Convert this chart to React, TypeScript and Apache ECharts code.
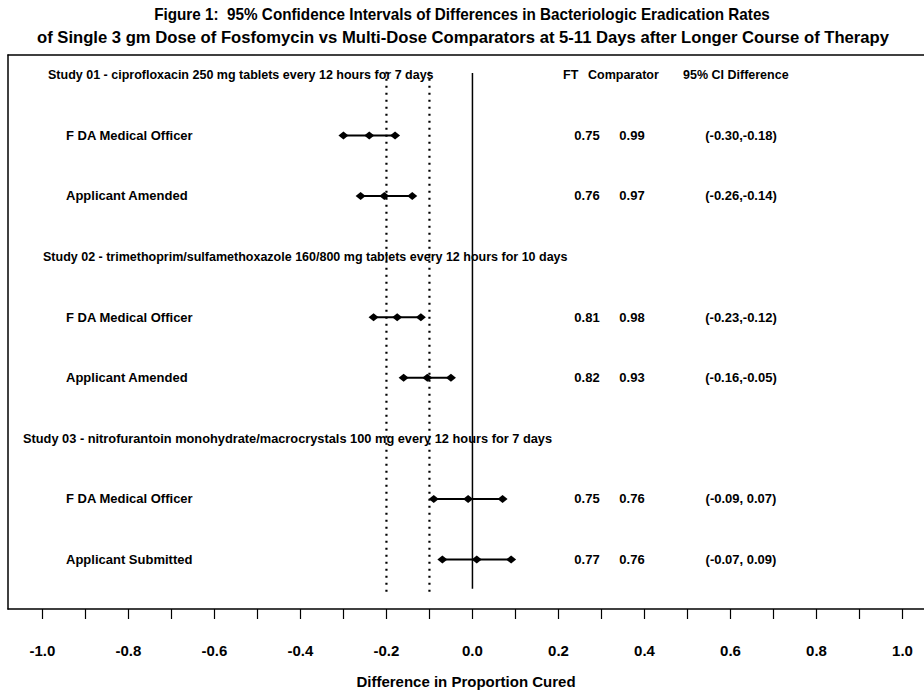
import React, { useEffect, useRef } from "react";
import * as echarts from "echarts";

// ---------- data ----------
const titleLines = [
  "Figure 1:  95% Confidence Intervals of Differences in Bacteriologic Eradication Rates",
  "of Single 3 gm Dose of Fosfomycin vs Multi-Dose Comparators at 5-11 Days after Longer Course of Therapy",
];
const studyHeaders = [
  "Study 01 - ciprofloxacin 250 mg tablets every 12 hours for 7 days",
  "Study 02 - trimethoprim/sulfamethoxazole 160/800 mg tablets every 12 hours for 10 days",
  "Study 03 - nitrofurantoin monohydrate/macrocrystals 100 mg every 12 hours for 7 days",
];
const studyRows = [0, 3, 6];
const comparisonLabels = [
  "F DA Medical Officer",
  "Applicant Amended",
  "F DA Medical Officer",
  "Applicant Amended",
  "F DA Medical Officer",
  "Applicant Submitted",
];
const comparisonRows = [1, 2, 4, 5, 7, 8];
const lowerCI = [-0.3, -0.26, -0.23, -0.16, -0.09, -0.07];
const pointEst = [-0.24, -0.205, -0.175, -0.105, -0.01, 0.01];
const upperCI = [-0.18, -0.14, -0.12, -0.05, 0.07, 0.09];
const ftRates = ["0.75", "0.76", "0.81", "0.82", "0.75", "0.77"];
const comparatorRates = ["0.99", "0.97", "0.98", "0.93", "0.76", "0.76"];
const ciLabels = [
  "(-0.30,-0.18)",
  "(-0.26,-0.14)",
  "(-0.23,-0.12)",
  "(-0.16,-0.05)",
  "(-0.09, 0.07)",
  "(-0.07, 0.09)",
];
const columnHeaders = ["FT", "Comparator", "95% CI Difference"];
const solidReference = [0];
const dottedReferences = [-0.2, -0.1];
const xTickValues = [
  -1.0, -0.9, -0.8, -0.7, -0.6, -0.5, -0.4, -0.3, -0.2, -0.1, 0.0, 0.1, 0.2, 0.3, 0.4, 0.5, 0.6, 0.7,
  0.8, 0.9, 1.0,
];
const xLabelValues = [-1.0, -0.8, -0.6, -0.4, -0.2, 0.0, 0.2, 0.4, 0.6, 0.8, 1.0];
const xAxisTitle = "Difference in Proportion Cured";

// ---------- layout constants ----------
const FONT = "'Liberation Sans', Arial, sans-serif";
const X_MIN = -1.08;
const X_MAX = 1.05;
const Y_MIN = -0.3265;
const Y_MAX = 8.816;
const REF_TOP = -0.03;
const REF_BOTTOM = 8.48;

export default function App() {
  const ref = useRef<HTMLDivElement>(null);

  useEffect(() => {
    if (!ref.current) return;
    const chart = echarts.init(ref.current, undefined, { renderer: "svg" });

    const forestData = comparisonRows.map((row, i) => [lowerCI[i], pointEst[i], upperCI[i], row, i]);
    const textData = comparisonRows.map((row, i) => [0, row, i]);
    const headerData = studyRows.map((row, i) => [0, row, i]);

    const headerX = [48, 43, 23];
    const headerFontSize = [12.5, 12.5, 12.8];
    const columnHeaderX = [563, 588, 683];

    const option: any = {
      animation: false,
      backgroundColor: "#fff",
      textStyle: { fontFamily: FONT },
      graphic: [
        {
          type: "text",
          x: 462,
          y: 14,
          scaleX: 0.955,
          style: {
            text: titleLines[0],
            font: `bold 16px ${FONT}`,
            fill: "#000",
            align: "center",
            verticalAlign: "middle",
          },
        },
        {
          type: "text",
          x: 463,
          y: 37,
          scaleX: 1.04,
          style: {
            text: titleLines[1],
            font: `bold 16px ${FONT}`,
            fill: "#000",
            align: "center",
            verticalAlign: "middle",
          },
        },
      ],
      grid: { left: 8, right: 0, top: 55, bottom: 79, containLabel: false },
      xAxis: [
        {
          type: "value",
          min: X_MIN,
          max: X_MAX,
          position: "bottom",
          axisLine: { show: true, onZero: false, lineStyle: { color: "#000", width: 1.5 } },
          axisTick: {
            show: true,
            length: 10,
            inside: false,
            customValues: xTickValues,
            lineStyle: { color: "#000", width: 1.2 },
          },
          axisLabel: {
            show: true,
            customValues: xLabelValues,
            formatter: (v: number) => v.toFixed(1),
            fontFamily: FONT,
            fontSize: 15,
            fontWeight: "bold",
            color: "#000",
            margin: 34,
          },
          splitLine: { show: false },
          name: xAxisTitle,
          nameLocation: "middle",
          nameGap: 65,
          nameTextStyle: { fontFamily: FONT, fontSize: 15, fontWeight: "bold", color: "#000" },
        },
        {
          type: "value",
          min: X_MIN,
          max: X_MAX,
          position: "top",
          axisLine: { show: true, onZero: false, lineStyle: { color: "#000", width: 1.5 } },
          axisTick: { show: false },
          axisLabel: { show: false },
          splitLine: { show: false },
        },
      ],
      yAxis: {
        type: "value",
        inverse: true,
        min: Y_MIN,
        max: Y_MAX,
        axisLine: { show: true, onZero: false, lineStyle: { color: "#000", width: 1.5 } },
        axisTick: { show: false },
        axisLabel: { show: false },
        splitLine: { show: false },
      },
      series: [
        {
          type: "custom",
          name: "reference",
          clip: false,
          data: [
            ...solidReference.map((x) => [x, 0]),
            ...dottedReferences.map((x) => [x, 1]),
          ],
          encode: { x: 0, y: 1 },
          renderItem: (params: any, api: any) => {
            const x = api.value(0);
            const dotted = api.value(1) === 1;
            const top = api.coord([x, dotted ? REF_TOP - 0.02 : REF_TOP]);
            const bottom = api.coord([x, dotted ? REF_BOTTOM + 0.05 : REF_BOTTOM]);
            return {
              type: "line",
              shape: { x1: top[0], y1: top[1], x2: bottom[0], y2: bottom[1] },
              style: dotted
                ? { stroke: "#000", lineWidth: 2.2, lineDash: [2, 5] }
                : { stroke: "#000", lineWidth: 1.5 },
            };
          },
        },
        {
          type: "custom",
          name: "ci",
          clip: false,
          data: forestData,
          encode: { x: [0, 1, 2], y: 3 },
          renderItem: (params: any, api: any) => {
            const row = api.value(3);
            const lo = api.coord([api.value(0), row]);
            const est = api.coord([api.value(1), row]);
            const hi = api.coord([api.value(2), row]);
            const diamond = (p: number[]) => ({
              type: "polygon",
              shape: {
                points: [
                  [p[0] - 5, p[1]],
                  [p[0], p[1] - 4],
                  [p[0] + 5, p[1]],
                  [p[0], p[1] + 4],
                ],
              },
              style: { fill: "#000" },
            });
            return {
              type: "group",
              children: [
                {
                  type: "line",
                  shape: { x1: lo[0], y1: lo[1], x2: hi[0], y2: hi[1] },
                  style: { stroke: "#000", lineWidth: 2 },
                },
                diamond(lo),
                diamond(est),
                diamond(hi),
              ],
            };
          },
        },
        {
          type: "custom",
          name: "rowText",
          clip: false,
          data: textData,
          encode: { y: 1 },
          renderItem: (params: any, api: any) => {
            const i = api.value(2);
            const y = api.coord([0, api.value(1)])[1];
            const t = (text: string, x: number, align: string) => ({
              type: "text",
              x,
              y,
              style: {
                text,
                fill: "#000",
                font: `bold 13px ${FONT}`,
                align,
                verticalAlign: "middle",
              },
            });
            return {
              type: "group",
              children: [
                t(comparisonLabels[i], 66, "left"),
                t(ftRates[i], 587, "center"),
                t(comparatorRates[i], 632, "center"),
                t(ciLabels[i], 741, "center"),
              ],
            };
          },
        },
        {
          type: "custom",
          name: "headers",
          clip: false,
          data: headerData,
          encode: { y: 1 },
          renderItem: (params: any, api: any) => {
            const i = api.value(2);
            const y = api.coord([0, api.value(1)])[1];
            const children: any[] = [
              {
                type: "text",
                x: headerX[i],
                y,
                style: {
                  text: studyHeaders[i],
                  fill: "#000",
                  font: `bold ${headerFontSize[i]}px ${FONT}`,
                  align: "left",
                  verticalAlign: "middle",
                },
              },
            ];
            if (i === 0) {
              columnHeaders.forEach((h, k) =>
                children.push({
                  type: "text",
                  x: columnHeaderX[k],
                  y,
                  style: {
                    text: h,
                    fill: "#000",
                    font: `bold 12.5px ${FONT}`,
                    align: "left",
                    verticalAlign: "middle",
                  },
                })
              );
            }
            return { type: "group", children };
          },
        },
      ],
    };

    chart.setOption(option);
    return () => chart.dispose();
  }, []);

  return <div ref={ref} style={{ width: 924, height: 694, position: "absolute", left: 0, top: 0 }} />;
}
